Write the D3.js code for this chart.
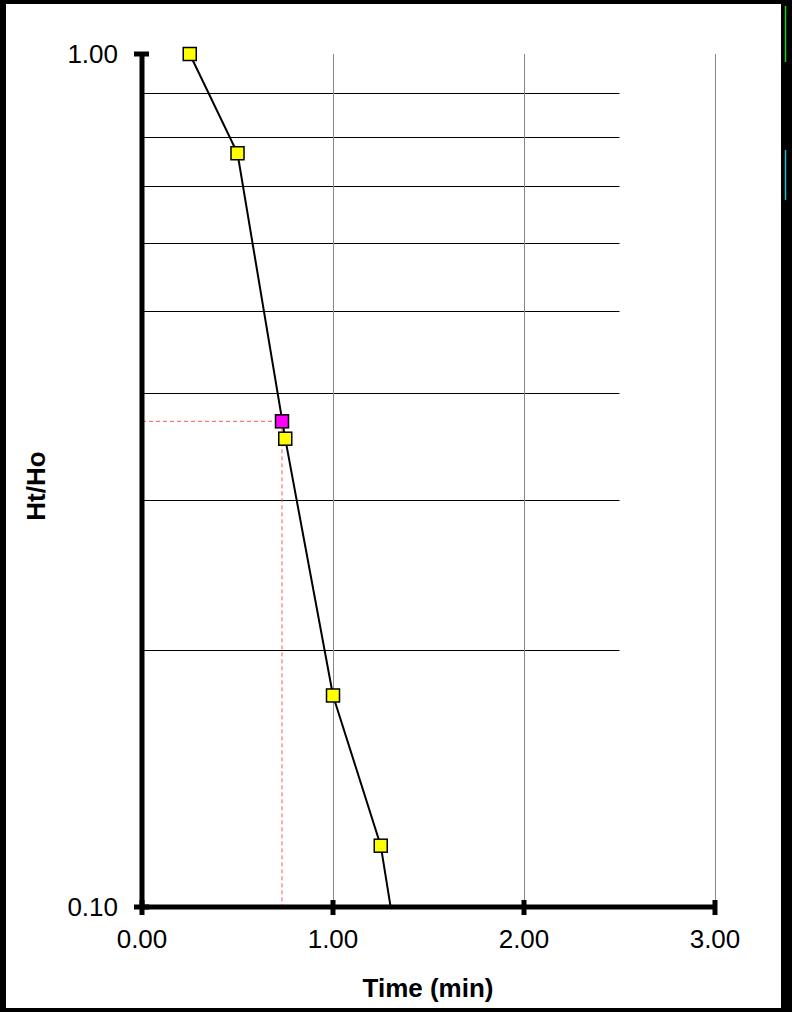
<!DOCTYPE html>
<html><head><meta charset="utf-8">
<script src="https://cdn.jsdelivr.net/npm/d3@7"></script>
<style>body{margin:0;background:#fff}svg{display:block}</style>
</head><body>
<script>
const times = [0.25, 0.5, 0.75, 1.0, 1.25, 1.5];
const ratios = [1.0, 0.765, 0.354, 0.177, 0.118, 0.053];
const markPoint = {t: 0.733, r: 0.371};
const xTicks = [0, 1, 2, 3];
const yTicks = [1.0, 0.1];
const yGrid = [0.9, 0.8, 0.7, 0.6, 0.5, 0.4, 0.3, 0.2];
const xGrid = [1, 2, 3];

const W = 792, H = 1012;
const FONT = "Liberation Sans, Arial, sans-serif";
const svg = d3.select("body").append("svg").attr("width", W).attr("height", H);
svg.append("rect").attr("width", W).attr("height", H).attr("fill", "#fff");

const x = d3.scaleLinear().domain([0, 3]).range([142, 715]);
const y = d3.scaleLog().domain([0.1, 1]).range([907, 54]);

// outer border
svg.append("rect").attr("x", 0).attr("y", 0).attr("width", 6).attr("height", H).attr("fill", "#000");
svg.append("rect").attr("x", 0).attr("y", 0).attr("width", W).attr("height", 4).attr("fill", "#000");
svg.append("rect").attr("x", 781).attr("y", 0).attr("width", 11).attr("height", H).attr("fill", "#000");
svg.append("rect").attr("x", 0).attr("y", 1008).attr("width", W).attr("height", 4).attr("fill", "#000");
svg.append("line").attr("x1", 785.5).attr("x2", 785.5).attr("y1", 6).attr("y2", 62).attr("stroke", "#22cc22").attr("stroke-width", 1.5);
svg.append("line").attr("x1", 785.5).attr("x2", 785.5).attr("y1", 150).attr("y2", 200).attr("stroke", "#22bbcc").attr("stroke-width", 1.5);

// gridlines
svg.append("g").selectAll("line").data(yGrid).join("line")
  .attr("x1", x(0)).attr("x2", x(2.5))
  .attr("y1", d => Math.round(y(d)) + 0.5).attr("y2", d => Math.round(y(d)) + 0.5)
  .attr("stroke", "#000").attr("stroke-width", 1);
svg.append("g").selectAll("line").data(xGrid).join("line")
  .attr("x1", d => Math.round(x(d)) + 0.5).attr("x2", d => Math.round(x(d)) + 0.5)
  .attr("y1", y(1)).attr("y2", y(0.1))
  .attr("stroke", "#888").attr("stroke-width", 1);

// dashed reference lines
svg.append("path")
  .attr("d", `M${x(0)},${y(markPoint.r)}H${x(markPoint.t)}V${y(0.1)}`)
  .attr("fill", "none").attr("stroke", "#ff5555").attr("stroke-width", 1).attr("stroke-dasharray", "4,3");

// clip
svg.append("clipPath").attr("id", "clip").append("rect")
  .attr("x", x(0)).attr("y", y(1) - 10).attr("width", x(3) - x(0)).attr("height", y(0.1) - y(1) + 10);

const line = d3.line().x((d, i) => x(times[i])).y((d, i) => y(ratios[i]));
svg.append("path").datum(ratios).attr("d", line)
  .attr("clip-path", "url(#clip)")
  .attr("fill", "none").attr("stroke", "#000").attr("stroke-width", 2);

// axes
const axisG = svg.append("g");
axisG.append("line").attr("x1", x(0)).attr("x2", x(0)).attr("y1", y(1) - 2).attr("y2", y(0.1) + 2)
  .attr("stroke", "#000").attr("stroke-width", 5);
axisG.append("line").attr("x1", x(0) - 2).attr("x2", x(3) + 2).attr("y1", y(0.1)).attr("y2", y(0.1))
  .attr("stroke", "#000").attr("stroke-width", 5);
axisG.selectAll(".yt").data(yTicks).join("line")
  .attr("x1", x(0) - 8).attr("x2", x(0) + 7)
  .attr("y1", d => y(d)).attr("y2", d => y(d))
  .attr("stroke", "#000").attr("stroke-width", 5);
axisG.selectAll(".xt").data(xTicks).join("line")
  .attr("x1", d => x(d)).attr("x2", d => x(d))
  .attr("y1", y(0.1) - 7).attr("y2", y(0.1) + 8)
  .attr("stroke", "#000").attr("stroke-width", 5);

// tick labels
svg.append("g").selectAll("text").data(yTicks).join("text")
  .attr("x", 118).attr("y", d => y(d) + 9)
  .attr("text-anchor", "end")
  .attr("font-family", FONT).attr("font-size", 26)
  .text(d => d.toFixed(2));
svg.append("g").selectAll("text").data(xTicks).join("text")
  .attr("x", d => x(d)).attr("y", 948)
  .attr("text-anchor", "middle")
  .attr("font-family", FONT).attr("font-size", 26)
  .text(d => d.toFixed(2));

// axis titles
svg.append("text").attr("x", 428).attr("y", 997).attr("text-anchor", "middle")
  .attr("font-family", FONT).attr("font-size", 26).attr("font-weight", "bold")
  .text("Time (min)");
svg.append("text").attr("transform", "translate(45,486) rotate(-90)").attr("text-anchor", "middle")
  .attr("font-family", FONT).attr("font-size", 26).attr("font-weight", "bold")
  .text("Ht/Ho");

// markers
const pts = times.map((t, i) => ({t, r: ratios[i]})).filter(d => d.r >= 0.1);
svg.append("g").selectAll("rect").data(pts).join("rect")
  .attr("x", d => x(d.t) - 6.5).attr("y", d => y(d.r) - 6.5)
  .attr("width", 13).attr("height", 13)
  .attr("fill", "#ffff00").attr("stroke", "#000").attr("stroke-width", 1.5);
svg.append("rect")
  .attr("x", x(markPoint.t) - 6.5).attr("y", y(markPoint.r) - 6.5)
  .attr("width", 13).attr("height", 13)
  .attr("fill", "#ff00ff").attr("stroke", "#000").attr("stroke-width", 1.5);
</script>
</body></html>
